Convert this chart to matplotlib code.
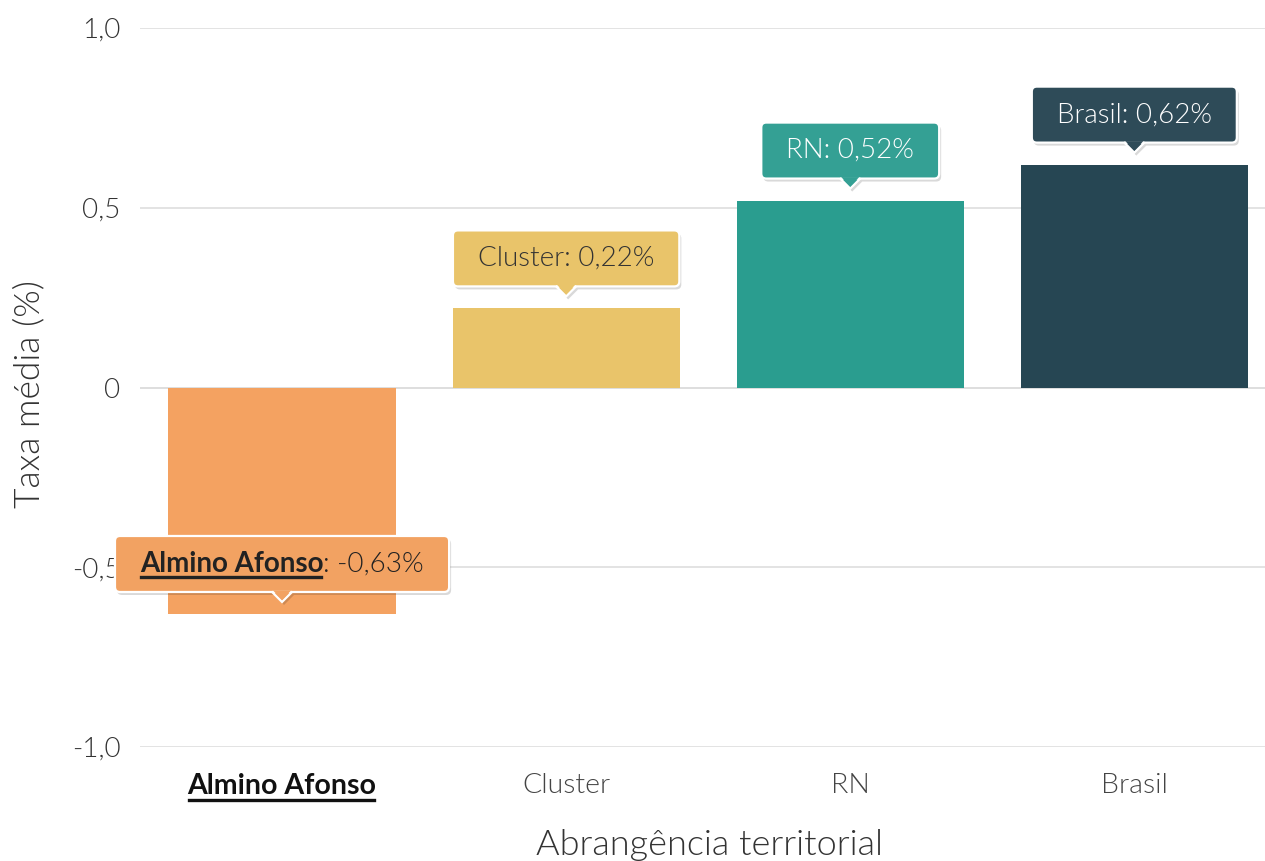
import numpy as np
import matplotlib.pyplot as plt
from matplotlib.patches import FancyBboxPatch, Polygon
from matplotlib.transforms import IdentityTransform

# Dados
categorias = ['Almino Afonso', 'Cluster', 'RN', 'Brasil']
taxas = [-0.63, 0.22, 0.52, 0.62]
rotulos = ['-0,63%', '0,22%', '0,52%', '0,62%']
cores = ['#F4A261', '#E9C46A', '#2A9D8F', '#264653']
cores_caixa = ['#F2A262', '#E9C46A', '#34A094', '#2E4B58']
cores_texto = ['#222222', '#333333', '#FFFFFF', '#FFFFFF']
yticks = [-1.0, -0.5, 0, 0.5, 1.0]
ytick_labels = ['-1,0', '-0,5', '0', '0,5', '1,0']

plt.rcParams['font.family'] = ['Lato', 'DejaVu Sans']
LEVE = 300

W, H = 1265, 861
fig = plt.figure(figsize=(W / 100, H / 100), dpi=100)
ax = fig.add_axes([140 / W, 1 - 747 / H, 1 - 140 / W, (747 - 28) / H])

x = np.arange(len(categorias))
ax.bar(x, taxas, width=0.8, color=cores, zorder=2)
ax.set_xlim(-0.5, 3.46)
ax.set_ylim(-1.0, 1.0)

ax.set_yticks(yticks)
ax.set_yticklabels(ytick_labels, fontsize=20, fontweight=LEVE, color='#333333')
ax.yaxis.grid(True, color='#e0e0e0', lw=1.3, zorder=0)
ax.axhline(0, color='#c8c8c8', lw=1.3, zorder=1)
for s in ax.spines.values():
    s.set_visible(False)
ax.tick_params(length=0)
ax.tick_params(axis='y', pad=14)
ax.tick_params(axis='x', pad=19)
ax.set_xticks(x)
ax.set_xticklabels(categorias, fontsize=20.5, fontweight=LEVE, color='#444444')
lab0 = ax.get_xticklabels()[0]
lab0.set_fontweight('bold')
lab0.set_color('#111111')

fig.text(29 / W, 1 - 394 / H, 'Taxa média (%)', rotation=90, ha='center', va='center',
         fontsize=25.5, fontweight=LEVE, color='#333333')
fig.text(709 / W, 1 - 855 / H, 'Abrangência territorial', ha='center', va='baseline',
         fontsize=26, fontweight=LEVE, color='#333333')

fig.canvas.draw()
renderer = fig.canvas.get_renderer()
ident = IdentityTransform()

# sublinhado do rótulo do eixo
bb = lab0.get_window_extent(renderer)
ax.add_line(plt.Line2D([bb.x0 + 1, bb.x1 - 3], [bb.y0 - 1, bb.y0 - 1], transform=ident,
                       color='#111111', lw=2.4, clip_on=False))

# tooltips
box_h = 56
for i, v in enumerate(taxas):
    px, py = ax.transData.transform((i, v))
    tip = py + 12
    base = tip + 10
    cy = base + box_h / 2
    if i == 0:
        t1 = fig.text(0, 0, categorias[i], fontsize=20, fontweight='bold', color=cores_texto[i],
                      transform=ident, ha='left', va='center', zorder=10)
        t2 = fig.text(0, 0, ': ' + rotulos[i], fontsize=20, fontweight=LEVE, color=cores_texto[i],
                      transform=ident, ha='left', va='center', zorder=10)
        w1 = t1.get_window_extent(renderer).width
        w2 = t2.get_window_extent(renderer).width
        tw = w1 + w2
        x0 = px - tw / 2
        t1.set_position((x0, cy))
        t2.set_position((x0 + w1, cy))
        fig.add_artist(plt.Line2D([x0 + 1, x0 + w1 - 2], [cy - 13, cy - 13], transform=ident,
                                  color=cores_texto[i], lw=2.4, zorder=10))
    else:
        t = fig.text(px, cy, categorias[i] + ': ' + rotulos[i], fontsize=20, fontweight=LEVE,
                     color=cores_texto[i], transform=ident, ha='center', va='center', zorder=10)
        tw = t.get_window_extent(renderer).width
    bw = tw + 50
    bx = px - bw / 2
    sombra = FancyBboxPatch((bx + 2, base - 3), bw, box_h, boxstyle='round,pad=0,rounding_size=5',
                            transform=ident, fc='black', ec='none', alpha=0.15, zorder=6)
    fig.add_artist(sombra)
    tri_s = Polygon([[px - 10 + 2, base - 3], [px + 2, tip - 3], [px + 10 + 2, base - 3]],
                    closed=True, transform=ident, fc='black', ec='none', alpha=0.15, zorder=6)
    fig.add_artist(tri_s)
    caixa = FancyBboxPatch((bx, base), bw, box_h, boxstyle='round,pad=0,rounding_size=5',
                           transform=ident, fc=cores_caixa[i], ec='white', lw=1.6, zorder=7)
    fig.add_artist(caixa)
    tri = Polygon([[px - 10, base], [px, tip], [px + 10, base]], closed=True,
                  transform=ident, fc=cores_caixa[i], ec='white', lw=1.6, zorder=8)
    fig.add_artist(tri)
    tampa = Polygon([[px - 9, base + 1.5], [px, tip + 2], [px + 9, base + 1.5]], closed=True,
                    transform=ident, fc=cores_caixa[i], ec='none', zorder=9)
    fig.add_artist(tampa)

fig.savefig('out.png', dpi=100)
